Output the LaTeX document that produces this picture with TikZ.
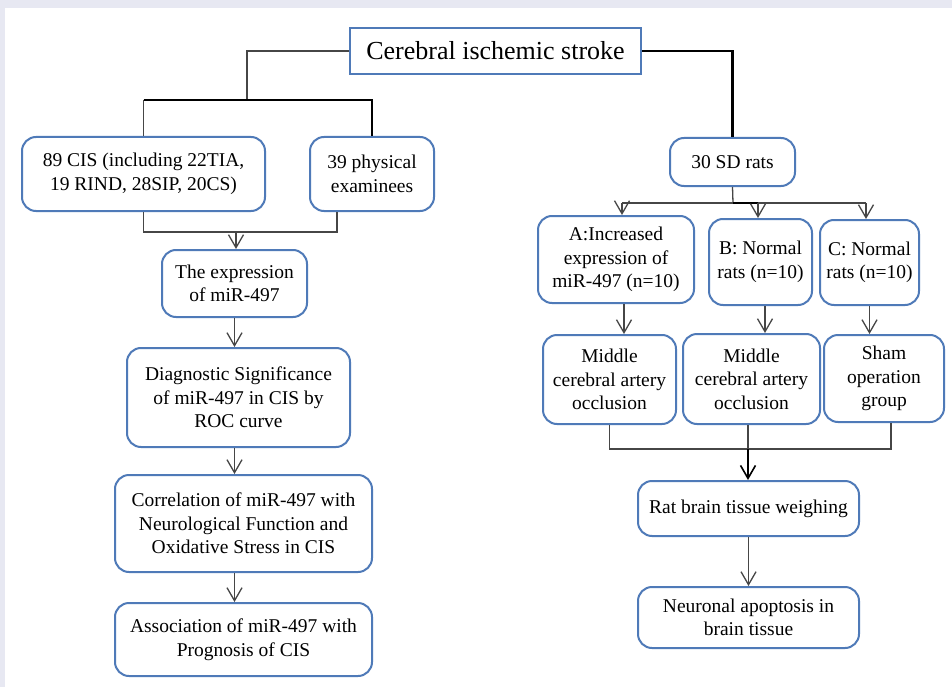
\documentclass[tikz,border=0pt]{standalone}
\usepackage{fontspec}
\setmainfont{Liberation Serif}
\usetikzlibrary{arrows.meta}
\tikzset{every picture/.style={line width=0.75pt}}
\definecolor{boxblue}{RGB}{79,122,184}
\definecolor{linegray}{RGB}{70,70,70}
\definecolor{pagegray}{RGB}{231,232,242}
\tikzset{
  box/.style={draw=boxblue, line width=2pt, rounded corners=14pt, align=center, inner sep=0pt, font=\fontsize{19.5}{23.5}\selectfont},
  topbox/.style={draw=boxblue, line width=2pt, align=center, inner sep=0pt, font=\fontsize{26}{30}\selectfont},
  link/.style={draw=linegray, line width=1.3pt},
  boldlink/.style={draw=black, line width=2.2pt},
  arr/.style={link, -{Straight Barb[length=13pt,width=15pt,line width=1.3pt]}},
  boldarr/.style={boldlink, -{Straight Barb[length=13pt,width=15pt,line width=1.6pt]}},
}

\begin{document}
\begin{tikzpicture}[x=1pt,y=1pt,yscale=-1,xscale=1]
    \fill[pagegray] (0,0) rectangle (952,687);
    \fill[white] (5,8) rectangle (952,687);
    \useasboundingbox (0,0) rectangle (952,687);
    % boxes
    \node[topbox, minimum width=291, minimum height=46] (stroke) at (495.5,51) {Cerebral ischemic stroke};
    \node[box, minimum width=243, minimum height=74] (cis) at (143.5,174) {89 CIS (including 22TIA,\\ 19 RIND, 28SIP, 20CS)};
    \node[box, minimum width=124, minimum height=74] (phys) at (372,174) {39 physical\\examinees};
    \node[box, minimum width=145, minimum height=67] (expr) at (234.5,283.5) {The expression\\of miR-497};
    \node[box, minimum width=223, minimum height=99] (diag) at (238.5,397.5) {Diagnostic Significance\\of miR-497 in CIS by\\ROC curve};
    \node[box, minimum width=257, minimum height=97] (corr) at (243.5,523.5) {Correlation of miR-497 with\\Neurological Function and\\Oxidative Stress in CIS};
    \node[box, minimum width=257, minimum height=73] (assoc) at (243.5,639.5) {Association of miR-497 with\\Prognosis of CIS};
    \node[box, minimum width=125, minimum height=48] (sd) at (732.5,162) {30 SD rats};
    \node[box, minimum width=156, minimum height=87] (grpa) at (616,259.5) {A:Increased\\expression of\\miR-497 (n=10)};
    \node[box, minimum width=103, minimum height=86] (grpb) at (760.5,262) {B: Normal\\rats (n=10)};
    \node[box, minimum width=99, minimum height=85] (grpc) at (869.5,262.5) {C: Normal\\rats (n=10)};
    \node[box, minimum width=133, minimum height=89] (mcaoa) at (609.5,379.5) {Middle\\cerebral artery\\occlusion};
    \node[box, minimum width=137, minimum height=90] (mcaob) at (751.5,379) {Middle\\cerebral artery\\occlusion};
    \node[box, minimum width=120, minimum height=87] (sham) at (884,378.5) {Sham\\operation\\group};
    \node[box, minimum width=221, minimum height=55] (weigh) at (748.5,508.5) {Rat brain tissue weighing};
    \node[box, minimum width=221, minimum height=61] (apop) at (748.5,617.5) {Neuronal apoptosis in\\brain tissue};
    % joints
    \coordinate (ljoin) at (247,100);
    \coordinate (lmerge) at (236,232);
    \coordinate (rsplit) at (733,203);
    \coordinate (splita) at (622,203);
    \coordinate (splitb) at (758,203);
    \coordinate (splitc) at (866,203);
    \coordinate (rmerge) at (748,449);
    % left side
    \draw[link] (stroke.west) -| (ljoin);
    \draw[boldlink] (cis.north |- ljoin) -- (phys.north |- ljoin) -- (phys.north);
    \draw[link] (cis.north |- ljoin) -- (cis.north);
    \draw[link] (cis.south) |- (lmerge) -| ([xshift=-35pt]phys.south);
    \draw[arr] (lmerge) -- (lmerge |- expr.north);
    \draw[arr] (expr.south) -- (expr.south |- diag.north);
    \draw[arr] (expr.south |- diag.south) -- (expr.south |- corr.north);
    \draw[arr] (expr.south |- corr.south) -- (expr.south |- assoc.north);
    % right side
    \draw[boldlink] (stroke.east) -| (sd.north);
    \draw[link] (sd.south) -- (rsplit);
    \draw[link] (splita) -- (splitc);
    \draw[boldlink] (rsplit) -- (splitb);
    \draw[arr] (splita) -- (splita |- grpa.north);
    \draw[arr] (splitb) -- (splitb |- grpb.north);
    \draw[arr] (splitc) -- (splitc |- grpc.north);
    \draw[arr] ([xshift=8pt]grpa.south) -- ([xshift=8pt]grpa.south |- mcaoa.north);
    \draw[arr] ([xshift=4.5pt]grpb.south) -- ([xshift=4.5pt]grpb.south |- mcaob.north);
    \draw[arr] (grpc.south) -- (grpc.south |- sham.north);
    \draw[link] (mcaoa.south) |- (rmerge) -| ([xshift=7pt]sham.south);
    \draw[link] (rmerge |- mcaob.south) -- (rmerge);
    \draw[boldarr] (rmerge) -- (rmerge |- weigh.north);
    \draw[arr] (weigh.south) -- (apop.north);
\end{tikzpicture}
\end{document}
